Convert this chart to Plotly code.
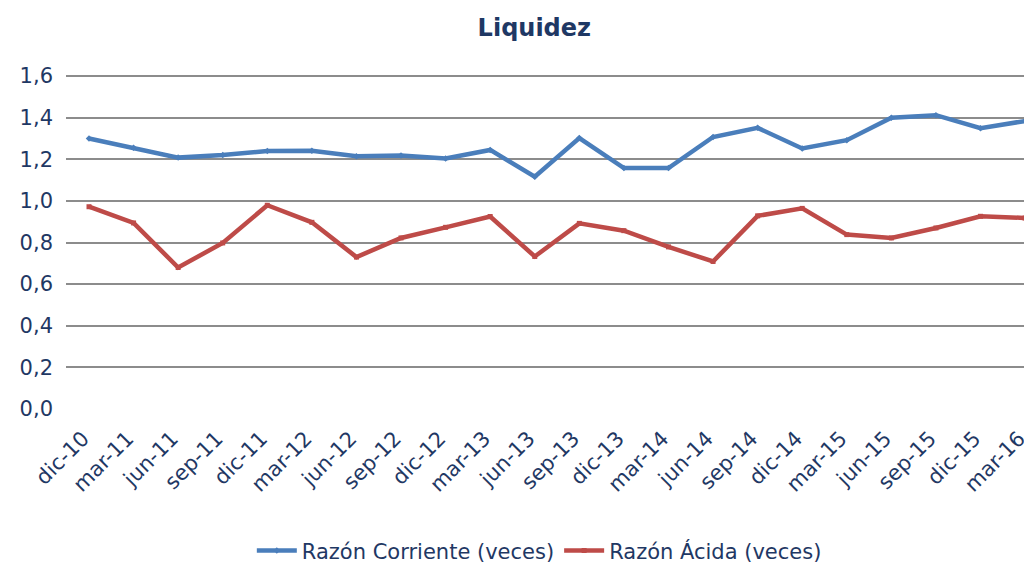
import plotly.graph_objects as go

periodos = ["dic-10", "mar-11", "jun-11", "sep-11", "dic-11", "mar-12", "jun-12", "sep-12",
            "dic-12", "mar-13", "jun-13", "sep-13", "dic-13", "mar-14", "jun-14", "sep-14",
            "dic-14", "mar-15", "jun-15", "sep-15", "dic-15", "mar-16"]
razon_corriente = [1.30, 1.256, 1.208, 1.221, 1.240, 1.241, 1.215, 1.218, 1.204, 1.245, 1.116,
                   1.302, 1.158, 1.158, 1.307, 1.351, 1.252, 1.292, 1.400, 1.412, 1.349, 1.384]
razon_acida = [0.972, 0.894, 0.680, 0.798, 0.979, 0.897, 0.730, 0.822, 0.873, 0.925, 0.733,
               0.892, 0.857, 0.779, 0.709, 0.928, 0.964, 0.838, 0.822, 0.870, 0.926, 0.918]

azul = "#4A7EBB"
rojo = "#BE4B48"
texto = "#1F3864"
fuente = "DejaVu Sans, Verdana, sans-serif"

fig = go.Figure()
fig.add_trace(go.Scatter(x=periodos, y=razon_corriente, name="Razón Corriente (veces)",
                         mode="lines+markers",
                         line=dict(color=azul, width=4.5),
                         marker=dict(symbol="diamond", size=5, color=azul)))
fig.add_trace(go.Scatter(x=periodos, y=razon_acida, name="Razón Ácida (veces)",
                         mode="lines+markers",
                         line=dict(color=rojo, width=4.5),
                         marker=dict(symbol="square", size=5, color=rojo)))

# la página tiene 8 px de margen, por eso la figura mide 1024x555
fig.update_layout(
    width=1024, height=555,
    margin=dict(l=58, r=2, t=67, b=154),
    paper_bgcolor="white", plot_bgcolor="white",
    separators=",.",
    font=dict(family=fuente, size=21, color=texto),
    title=dict(text="<b>Liquidez</b>", x=0.514, xanchor="center", y=0.964, yanchor="middle",
               font=dict(family=fuente, size=24, color=texto)),
    showlegend=True,
    legend=dict(orientation="h", x=0.491, xanchor="center", yref="container", y=0.022,
                yanchor="middle", font=dict(family=fuente, size=21, color=texto),
                itemwidth=40),
    xaxis=dict(type="category", range=[-0.516, 21.11], tickangle=-45, showgrid=False,
               showline=False, ticks="", tickfont=dict(size=21), automargin=False,
               ticklabelshift=-6, ticklabelstandoff=12),
    yaxis=dict(range=[0, 1.605], dtick=0.2, tickformat=".1f", showgrid=True,
               gridcolor="#8C8C8C", gridwidth=2, zeroline=False, showline=False,
               ticks="", ticklabelstandoff=12, tickfont=dict(size=21), automargin=False),
)

fig.write_html("out.html")
